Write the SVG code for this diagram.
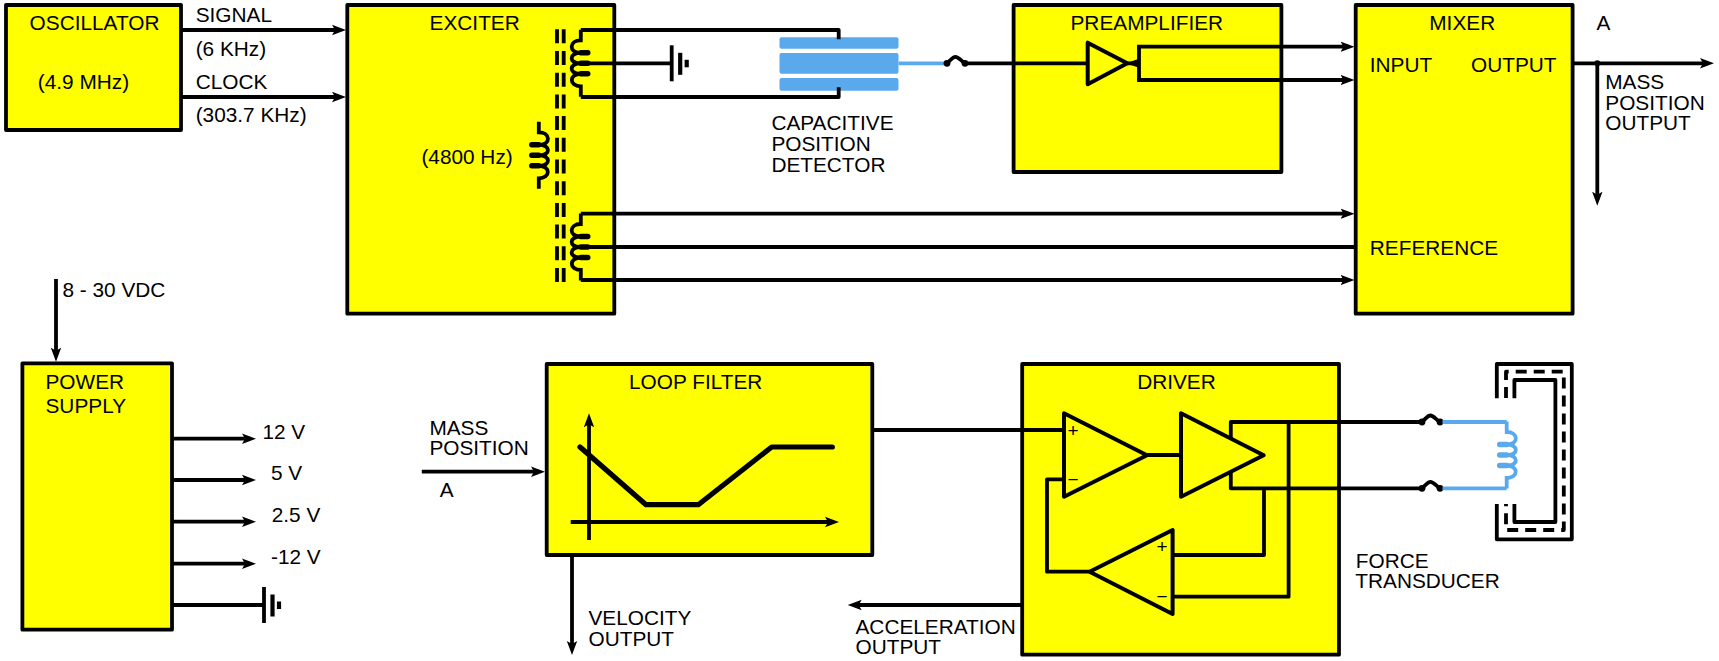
<svg xmlns="http://www.w3.org/2000/svg" xmlns:xlink="http://www.w3.org/1999/xlink" width="1719" height="661" viewBox="0 0 1719 661">
<style>
text{font-family:"Liberation Sans",Arial,sans-serif;font-size:20.8px;fill:#000}
.box{fill:#ff0;stroke:#000;stroke-width:3.8;stroke-linejoin:round}
.w{fill:none;stroke:#000;stroke-width:3.8;stroke-linejoin:round;stroke-linecap:butt}
.a{marker-end:url(#arrow)}
.blue{fill:none;stroke:#5aa9ec;stroke-width:3.8}
.plate{fill:#5aa9ec}
.tri{fill:#ff0;stroke:#000;stroke-width:4;stroke-linejoin:round}
.dash{stroke-dasharray:14 7.7;stroke-width:3.8}
.sym{font-size:19px}
</style>
<defs>
<marker id="arrow" markerUnits="userSpaceOnUse" markerWidth="16" markerHeight="12" refX="8" refY="6" orient="auto">
<polygon points="0,0.8 14,6 0,11.2 3,6" fill="#000"/>
</marker>
<g id="coil" fill="none">
<path d="M0,-33.5V-23C-12,-23-12,-10.5-1,-10.5H0C-12,-10.5-12,0-1,0H0C-12,0-12,10.5-1,10.5H0C-12,10.5-12,23 0,23V33.5"/>
<path stroke-width="5.4" stroke-linecap="round" d="M0,-10.5H7M0,0H7M0,10.5H7"/>
</g>
<g id="gnd" fill="none" stroke="#000">
<path stroke-width="3.8" d="M0,-18V18"/>
<path stroke-width="4.2" d="M8.5,-10.5V11.5"/>
<path stroke-width="4.2" d="M15,-3.5V4"/>
</g>
<g id="fuse">
<circle cx="2.5" cy="0" r="3.4"/>
<circle cx="20.5" cy="0" r="3.4"/>
<path d="M2.5,0C6,-3 8,-6.5 11,-6.5C14,-6.5 16,-3 20.5,0" fill="none" stroke="#000" stroke-width="3.8"/>
</g>
</defs>

<g id="oscillator">
<rect class="box" x="6" y="5" width="175" height="125"/>
<text x="29.6" y="30">OSCILLATOR</text>
<text x="37.8" y="89">(4.9 MHz)</text>
</g>

<g id="exciter">
<rect class="box" x="347.3" y="5" width="267" height="308.7"/>
<text x="429.6" y="30">EXCITER</text>
<text x="421.4" y="164">(4800 Hz)</text>
<path class="w dash" d="M557,29.3V282M563.7,29.3V282"/>
<use xlink:href="#coil" href="#coil" transform="translate(538.8 155.3) scale(-1 1)" stroke="#000" stroke-width="3.8"/>
<use xlink:href="#coil" href="#coil" transform="translate(580.8 63.3)" stroke="#000" stroke-width="3.8"/>
<use xlink:href="#coil" href="#coil" transform="translate(580.8 247)" stroke="#000" stroke-width="3.8"/>
</g>

<g id="capacitive-position-detector">
<rect class="plate" x="779.5" y="37.3" width="119" height="11.4" rx="2"/>
<rect class="plate" x="779.5" y="53" width="119" height="20.7" rx="2"/>
<rect class="plate" x="779.5" y="78" width="119" height="12.7" rx="2"/>
<text x="771.4" y="129.6">CAPACITIVE</text>
<text x="771.4" y="151">POSITION</text>
<text x="771.4" y="171.6">DETECTOR</text>
</g>

<g id="preamplifier">
<rect class="box" x="1013.6" y="5" width="267.8" height="167"/>
<text x="1070.5" y="30">PREAMPLIFIER</text>
<polygon class="tri" points="1087.7,42.7 1087.7,84.3 1127.3,63.3"/>
</g>

<g id="mixer">
<rect class="box" x="1355.7" y="5" width="216.9" height="308.7"/>
<text x="1429.3" y="30">MIXER</text>
<text x="1369.8" y="71.7">INPUT</text>
<text x="1471" y="71.7">OUTPUT</text>
<text x="1369.8" y="255">REFERENCE</text>
</g>

<g id="power-supply">
<rect class="box" x="22.4" y="363.3" width="149.6" height="266.4"/>
<text x="45.5" y="388.7">POWER</text>
<text x="45.5" y="413.3">SUPPLY</text>
</g>

<g id="loop-filter">
<rect class="box" x="546.7" y="364" width="325.6" height="191"/>
<text x="629" y="389.3">LOOP FILTER</text>
<path class="w a" d="M589,540V419.3"/>
<path class="w a" d="M570.7,522H833"/>
<path d="M580,447L646,504.7H698.3L771.7,447H832.3" fill="none" stroke="#000" stroke-width="5.2" stroke-linecap="round" stroke-linejoin="round"/>
</g>

<g id="driver">
<rect class="box" x="1022.2" y="364" width="316.8" height="290.7"/>
<text x="1137.2" y="389.3">DRIVER</text>
<polygon class="tri" points="1064,413.3 1064,496.7 1147,455.3"/>
<polygon class="tri" points="1181,413.3 1181,496.7 1263.7,455.3"/>
<polygon class="tri" points="1172.6,530 1172.6,614 1089.6,571.7"/>
<text class="sym" x="1073" y="436.5" text-anchor="middle">+</text>
<text class="sym" x="1073" y="485.5" text-anchor="middle">−</text>
<text class="sym" x="1162" y="553" text-anchor="middle">+</text>
<text class="sym" x="1162" y="603" text-anchor="middle">−</text>
</g>

<g id="force-transducer">
<path class="w" d="M1496.8,398.3V364H1571.8V539.3H1496.8V504"/>
<path class="w" d="M1514.4,398.3V380H1555.4V522H1514.4V504"/>
<path class="w" stroke-dasharray="11 7" d="M1506,398V371.7H1563.8V530H1506V504"/>
<use xlink:href="#coil" href="#coil" transform="translate(1506.7 455) scale(-1 1)" stroke="#5aa9ec" stroke-width="3.8"/>
<text x="1355.8" y="567.7">FORCE</text>
<text x="1355.3" y="588.3">TRANSDUCER</text>
</g>

<g id="connectors">
<path class="w a" d="M181,30H340"/>
<path class="w a" d="M181,97H340"/>
<path class="w" d="M580.8,30H838.7V39.3"/>
<path class="w" d="M580.8,97H838.7V87.3"/>
<path class="w" d="M580.8,63.3H671.7"/>
<use xlink:href="#gnd" href="#gnd" transform="translate(671.7 63.3)"/>
<path class="blue" d="M898.6,63.3H945"/>
<use xlink:href="#fuse" href="#fuse" transform="translate(944.5 63.3)"/>
<path class="w" d="M967,63.3H1087.7"/>
<path class="w" d="M1127.3,63.3H1139M1139,46.7V80"/>
<path class="w a" d="M1137.1,46.7H1348.5"/>
<path class="w a" d="M1137.1,80H1348.5"/>
<polygon points="1126,63.3 1139,58.8 1139,67.8" fill="#000"/>
<path class="w a" d="M580.8,213.7H1348.5"/>
<path class="w" d="M580.8,247H1355.7"/>
<path class="w a" d="M580.8,280H1348.5"/>
<path class="w a" d="M1572.6,63.3H1708"/>
<path class="w a" d="M1597.3,63.3V199.7"/>
<circle cx="1597.3" cy="63.3" r="3"/>
<path class="w a" d="M56,279V355.7"/>
<path class="w a" d="M172,438.7H250"/>
<path class="w a" d="M172,480H250"/>
<path class="w a" d="M172,521.7H250"/>
<path class="w a" d="M172,563.7H250"/>
<path class="w" d="M172,605H264"/>
<use xlink:href="#gnd" href="#gnd" transform="translate(264 605)"/>
<path class="w a" d="M421.8,471.7H539"/>
<path class="w" d="M872.3,430H1064"/>
<path class="w a" d="M572,555V649"/>
<path class="w a" d="M1022,605H853.7"/>
<path class="w" d="M1147,455H1181"/>
<path class="w" d="M1230.8,438V422H1421"/>
<path class="w" d="M1230.8,473V488.3H1421"/>
<path class="w" d="M1288.6,422V596.7H1172.6"/>
<path class="w" d="M1264,488.3V555H1172.6"/>
<path class="w" d="M1089.6,571.7H1047V479.3H1064"/>
<use xlink:href="#fuse" href="#fuse" transform="translate(1419.5 422)"/>
<use xlink:href="#fuse" href="#fuse" transform="translate(1419.5 488.3)"/>
<path class="blue" d="M1442.5,422H1506.7"/>
<path class="blue" d="M1442.5,488.3H1506.7"/>
</g>

<g id="labels">
<text x="195.7" y="22">SIGNAL</text>
<text x="195.7" y="55.6">(6 KHz)</text>
<text x="195.7" y="88.6">CLOCK</text>
<text x="195.7" y="122">(303.7 KHz)</text>
<text x="62.5" y="296.7">8 - 30 VDC</text>
<text x="1596.4" y="30">A</text>
<text x="1605.3" y="88.6">MASS</text>
<text x="1605.3" y="109.6">POSITION</text>
<text x="1605.3" y="129.6">OUTPUT</text>
<text x="262.4" y="438.7">12 V</text>
<text x="271" y="480">5 V</text>
<text x="271.7" y="521.7">2.5 V</text>
<text x="271" y="564">-12 V</text>
<text x="429.4" y="435">MASS</text>
<text x="429.4" y="455">POSITION</text>
<text x="439.8" y="496.7">A</text>
<text x="588.5" y="625.3">VELOCITY</text>
<text x="588.5" y="646">OUTPUT</text>
<text x="855.5" y="634.3">ACCELERATION</text>
<text x="855.5" y="654.3">OUTPUT</text>
</g>
</svg>
